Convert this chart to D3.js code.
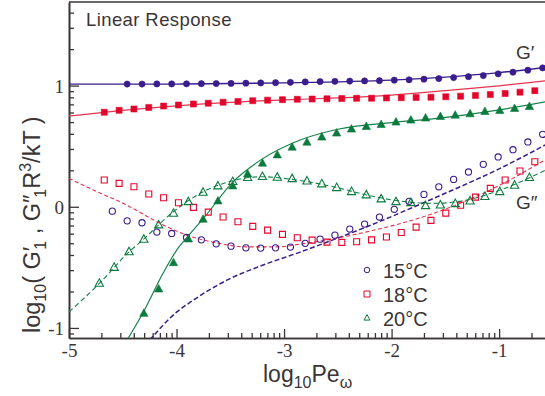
<!DOCTYPE html>
<html>
<head>
<meta charset="utf-8">
<script src="https://cdn.jsdelivr.net/npm/d3@7"></script>
<style>
  html, body { margin: 0; padding: 0; background: #fff; }
  svg { display: block; }
  .tick text { font-family: 'Liberation Serif', 'Times New Roman', serif; }
</style>
</head>
<body>
<svg id="chart" width="545" height="396"></svg>
<script>
// Frequency sweeps (log10 Pe_omega) for each temperature
const logPe15 = [-4.597, -4.459, -4.321, -4.183, -4.045, -3.907, -3.769, -3.631, -3.493, -3.355,
                 -3.217, -3.079, -2.941, -2.803, -2.665, -2.527, -2.389, -2.251, -2.113, -1.975,
                 -1.837, -1.699, -1.561, -1.423, -1.285, -1.147, -1.009, -0.871, -0.733, -0.595];
const logPe18 = [-4.672, -4.534, -4.396, -4.258, -4.120, -3.982, -3.843, -3.705, -3.567, -3.429,
                 -3.291, -3.153, -3.015, -2.877, -2.739, -2.601, -2.463, -2.325, -2.186, -2.048,
                 -1.910, -1.772, -1.634, -1.496, -1.358, -1.220, -1.082, -0.944, -0.806, -0.668];
const logPe20 = [-4.718, -4.580, -4.442, -4.304, -4.166, -4.028, -3.890, -3.753, -3.615, -3.477,
                 -3.339, -3.201, -3.063, -2.925, -2.787, -2.649, -2.511, -2.373, -2.235, -2.097,
                 -1.959, -1.821, -1.684, -1.546, -1.408, -1.270, -1.132, -0.994, -0.856, -0.718];

// Storage modulus G'_1 (log10, reduced units); 15°C and 20°C start later in the sweep
const gStorage15 = [1.013, 1.013, 1.014, 1.014, 1.015, 1.016, 1.017, 1.018, 1.020, 1.022,
                    1.024, 1.027, 1.030, 1.033, 1.035, 1.037, 1.039, 1.041, 1.045, 1.048,
                    1.053, 1.058, 1.066, 1.074, 1.083, 1.097, 1.111, 1.127, 1.146];
const gStorage18 = [0.780, 0.796, 0.807, 0.820, 0.831, 0.840, 0.848, 0.855, 0.863, 0.869,
                    0.875, 0.880, 0.884, 0.887, 0.889, 0.891, 0.893, 0.895, 0.896, 0.898,
                    0.900, 0.902, 0.904, 0.908, 0.913, 0.919, 0.926, 0.935, 0.946, 0.958];
const gStorage20 = [-0.881, -0.680, -0.463, -0.267, -0.104, 0.047, 0.171, 0.270, 0.359, 0.427,
                    0.491, 0.532, 0.574, 0.607, 0.640, 0.661, 0.678, 0.698, 0.714, 0.731,
                    0.744, 0.755, 0.766, 0.785, 0.793, 0.810, 0.826];

// Loss modulus G''_1 (log10, reduced units)
const gLoss15 = [-0.036, -0.116, -0.132, -0.209, -0.220, -0.253, -0.273, -0.306, -0.325, -0.339,
                 -0.341, -0.339, -0.333, -0.302, -0.267, -0.234, -0.184, -0.143, -0.085, -0.021,
                 0.045, 0.102, 0.165, 0.226, 0.287, 0.350, 0.411, 0.471, 0.535, 0.598];
const gLoss18 = [0.221, 0.193, 0.165, 0.105, 0.074, 0.033, -0.005, -0.044, -0.085, -0.124,
                 -0.162, -0.193, -0.228, -0.256, -0.275, -0.292, -0.294, -0.289, -0.273, -0.250,
                 -0.212, -0.168, -0.112, -0.052, 0.012, 0.080, 0.152, 0.221, 0.295, 0.372];
const gLoss20 = [-0.633, -0.501, -0.372, -0.269, -0.151, -0.055, 0.041, 0.119, 0.171, 0.207,
                 0.240, 0.248, 0.243, 0.231, 0.212, 0.188, 0.157, 0.124, 0.097, 0.064,
                 0.041, 0.033, 0.008, 0.014, 0.025, 0.047, 0.083, 0.124, 0.177, 0.240];

// Model curves: [log10 Pe, log10 G]
const fitStorage15 = [[-5, 1.012], [-4, 1.013], [-3, 1.022], [-2, 1.045], [-1.5, 1.07], [-1, 1.107], [-0.55, 1.152]];
const fitStorage18 = [[-5, 0.749], [-4.5, 0.795], [-4, 0.833], [-3.5, 0.862], [-3, 0.882], [-2.5, 0.898],
                      [-2, 0.922], [-1.5, 0.958], [-1, 0.998], [-0.55, 1.041]];
const fitStorage20 = [[-4.46, -1.10], [-4.309, -0.87], [-4.123, -0.545], [-4.0, -0.36], [-3.89, -0.24],
                      [-3.75, -0.096], [-3.47, 0.21], [-3.22, 0.385], [-2.85, 0.551], [-2.5, 0.64],
                      [-2.0, 0.695], [-1.6, 0.727], [-1.0, 0.80], [-0.55, 0.870]];
const fitLoss15 = [[-4.25, -1.10], [-4.0, -0.87], [-3.844, -0.771], [-3.533, -0.606], [-3.223, -0.490],
                   [-2.851, -0.374], [-2.231, -0.165], [-1.611, 0.069], [-0.991, 0.317], [-0.55, 0.52]];
const fitLoss18 = [[-5, 0.235], [-4.774, 0.138], [-4.463, 0.014], [-4.153, -0.137], [-3.905, -0.234],
                   [-3.626, -0.298], [-3.347, -0.331], [-3.068, -0.331], [-2.851, -0.308], [-2.231, -0.207],
                   [-1.611, -0.055], [-0.991, 0.179], [-0.55, 0.40]];
const fitLoss20 = [[-5, -0.868], [-4.718, -0.633], [-4.442, -0.372], [-4.309, -0.269], [-4.030, -0.041],
                   [-3.751, 0.124], [-3.477, 0.215], [-3.202, 0.248], [-2.923, 0.226], [-2.541, 0.165],
                   [-2.231, 0.097], [-1.921, 0.047], [-1.611, 0.028], [-1.302, 0.055], [-0.991, 0.138],
                   [-0.55, 0.31]];

const xTicks = [-5, -4, -3, -2, -1];
const yTicks = [-1, 0, 1];
const legendLabels = ["15°C", "18°C", "20°C"];

const purple = "#3a1d8c", red = "#e2062c", green = "#0b7a3e";
const ink = "#3b3535";
const serif = "'Liberation Serif', 'Times New Roman', serif";
const sans = "'Liberation Sans', Arial, Helvetica, sans-serif";

const svg = d3.select("#chart");
const plotLeft = 69, plotTop = 2, plotBottom = 338, plotRight = 547.5;

const x = d3.scaleLinear().domain([-5, -0.55]).range([plotLeft, plotRight]);
const y = d3.scaleLinear().domain([-1.083, 1.69]).range([plotBottom, plotTop]);

svg.append("defs").append("clipPath").attr("id", "plot")
  .append("rect").attr("x", plotLeft).attr("y", plotTop)
  .attr("width", plotRight - plotLeft).attr("height", plotBottom - plotTop);

// Minor (log-spaced) tick positions inside each decade
function minorTicks(lo, hi) {
  const out = [];
  for (let d = Math.floor(lo) - 1; d <= Math.ceil(hi); d++) {
    for (let k = 2; k <= 9; k++) {
      const v = d + Math.log10(k);
      if (v > lo && v < hi) out.push(v);
    }
  }
  return out;
}

// Axes with inward ticks
const xAxis = d3.axisBottom(x).tickValues(xTicks).tickSize(-9).tickSizeOuter(0).tickFormat(d => d);
const xMinor = d3.axisBottom(x).tickValues(minorTicks(-5, -0.55)).tickSize(-5).tickSizeOuter(0).tickFormat("");
const yAxis = d3.axisLeft(y).tickValues(yTicks).tickSize(-10).tickSizeOuter(0).tickFormat(d => d);
const yMinor = d3.axisLeft(y).tickValues(minorTicks(-1.083, 1.69)).tickSize(-5).tickSizeOuter(0).tickFormat("");

function styleAxis(g) {
  g.attr("font-family", serif).attr("font-size", 19);
  g.select(".domain").attr("stroke", ink).attr("stroke-width", 1.6);
  g.selectAll(".tick line").attr("stroke", ink).attr("stroke-width", 1.3);
  g.selectAll(".tick text").attr("fill", ink);
}

svg.append("g").attr("transform", `translate(0,${plotBottom})`).call(xMinor).call(styleAxis);
svg.append("g").attr("transform", `translate(0,${plotBottom})`).call(xAxis).call(styleAxis)
  .selectAll(".tick text").attr("y", 2).attr("dy", "0.9em");
svg.append("g").attr("transform", `translate(${plotLeft},0)`).call(yMinor).call(styleAxis);
svg.append("g").attr("transform", `translate(${plotLeft},0)`).call(yAxis).call(styleAxis)
  .selectAll(".tick text").attr("x", -5).attr("dy", "0.35em");

// Top frame line
svg.append("line").attr("x1", plotLeft).attr("x2", plotRight).attr("y1", plotTop).attr("y2", plotTop)
  .attr("stroke", ink).attr("stroke-width", 1.6);

const plot = svg.append("g").attr("clip-path", "url(#plot)");
const line = d3.line().x(d => x(d[0])).y(d => y(d[1])).curve(d3.curveMonotoneX);

// Model curves: solid for G', dashed for G''
[[fitStorage15, purple, null, 1.3], [fitStorage18, "#e8334f", null, 1.2], [fitStorage20, "#17834a", null, 1.2],
 [fitLoss15, purple, "5,2.5", 1.5], [fitLoss18, "#e8334f", "4,2.5", 1.1], [fitLoss20, "#17834a", "5,3", 1.1]]
  .forEach(([pts, col, dash, w]) => {
    plot.append("path").datum(pts).attr("d", line).attr("fill", "none")
      .attr("stroke", col).attr("stroke-width", w).attr("stroke-dasharray", dash);
  });

const zip = (xs, ys) => ys.map((v, i) => [xs[i], v]);

const triPath = s => `M0,${-s * 0.62}L${s * 0.55},${s * 0.38}L${-s * 0.55},${s * 0.38}Z`;

function drawMarkers(pts, shape, col, filled, size) {
  const g = plot.append("g");
  const sel = g.selectAll("path").data(pts).join("path")
    .attr("transform", d => `translate(${x(d[0])},${y(d[1])})`)
    .attr("fill", filled ? col : "none")
    .attr("stroke", col).attr("stroke-width", filled ? 0.6 : 1.1);
  if (shape === "circle") sel.attr("d", d3.symbol(d3.symbolCircle, size * size * Math.PI / 4)());
  if (shape === "square") sel.attr("d", `M${-size / 2},${-size / 2}h${size}v${size}h${-size}Z`);
  if (shape === "triangle") sel.attr("d", triPath(size));
}

// Open symbols: G''
drawMarkers(zip(logPe15, gLoss15), "circle", purple, false, 6.2);
drawMarkers(zip(logPe18, gLoss18), "square", red, false, 6);
drawMarkers(zip(logPe20, gLoss20), "triangle", green, false, 7.5);
// Filled symbols: G'
drawMarkers(zip(logPe15.slice(1), gStorage15), "circle", purple, true, 6.2);
drawMarkers(zip(logPe18, gStorage18), "square", red, true, 6);
drawMarkers(zip(logPe20.slice(3), gStorage20), "triangle", green, true, 7.5);

// Annotations
svg.append("text").attr("x", 86).attr("y", 26).attr("fill", ink)
  .style("font-family", sans).style("font-size", "18.5px").style("letter-spacing", "0.4px")
  .text("Linear Response");
svg.append("text").attr("x", 516).attr("y", 59).attr("fill", ink)
  .style("font-family", sans).style("font-size", "19px").text("G′");
svg.append("text").attr("x", 516).attr("y", 209).attr("fill", ink)
  .style("font-family", sans).style("font-size", "19px").text("G″");

// Legend
const legend = svg.append("g");
legendLabels.forEach((lab, i) => {
  const cy = 270 + i * 24;
  const sym = legend.append("path").attr("transform", `translate(367,${cy})`).attr("fill", "none").attr("stroke-width", 1);
  if (i === 0) sym.attr("d", d3.symbol(d3.symbolCircle, 5.5 * 5.5 * Math.PI / 4)()).attr("stroke", purple);
  if (i === 1) sym.attr("d", "M-3,-3h6v6h-6Z").attr("stroke", red);
  if (i === 2) sym.attr("d", triPath(5.5)).attr("stroke", green);
  legend.append("text").attr("x", 383).attr("y", cy + 7.5).attr("fill", ink)
    .style("font-family", sans).style("font-size", "20px").text(lab);
});

// Axis titles
const xt = svg.append("text").attr("x", 263).attr("y", 382).attr("fill", ink)
  .style("font-family", sans).style("font-size", "23px");
xt.append("tspan").text("log");
xt.append("tspan").attr("dy", 6).style("font-size", "16px").text("10");
xt.append("tspan").attr("dy", -6).text("Pe");
xt.append("tspan").attr("dy", 6).style("font-size", "16px").text("ω");

const yt = svg.append("text").attr("transform", "translate(40,333) rotate(-90)").attr("fill", ink)
  .style("font-family", sans).style("font-size", "23.5px");
yt.append("tspan").text("log");
yt.append("tspan").attr("dy", 6).style("font-size", "16px").text("10");
yt.append("tspan").attr("dy", -6).text("( G′");
yt.append("tspan").attr("dy", 6).attr("dx", -3).style("font-size", "16px").text("1");
yt.append("tspan").attr("dy", -6).text(" , G″");
yt.append("tspan").attr("dy", 6).attr("dx", -3).style("font-size", "16px").text("1");
yt.append("tspan").attr("dy", -6).text("R");
yt.append("tspan").attr("dy", -9).style("font-size", "16px").text("3");
yt.append("tspan").attr("dy", 9).text("/kT )");
</script>
</body>
</html>
